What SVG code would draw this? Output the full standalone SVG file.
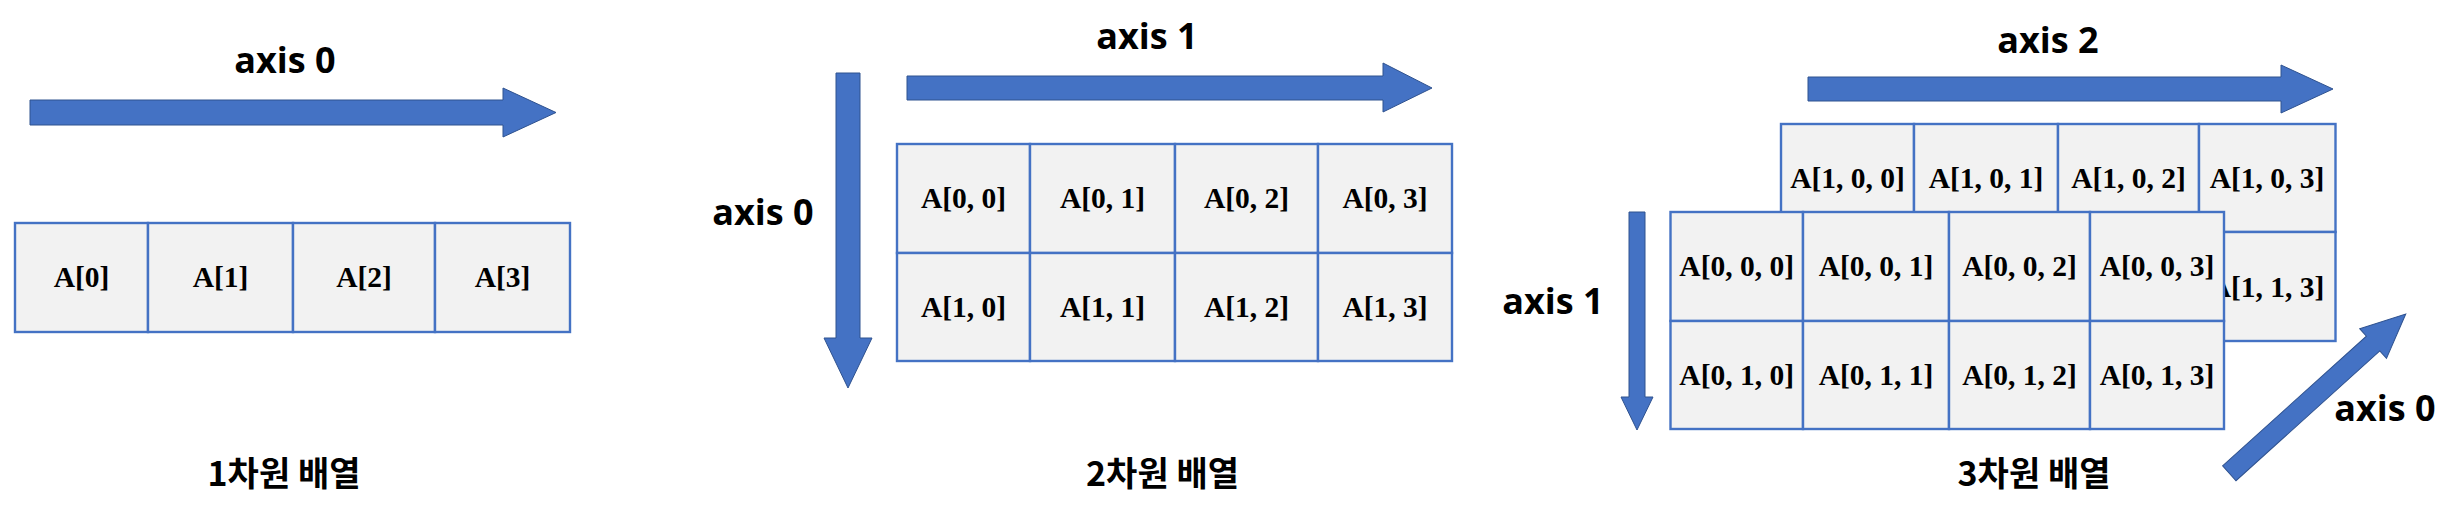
<svg xmlns="http://www.w3.org/2000/svg" width="2459" height="517" viewBox="0 0 2459 517">
<style>
.cell{fill:#F2F2F2;stroke:#4472C4;stroke-width:2.4}
.ct{font-family:"Liberation Serif","DejaVu Serif",serif;font-weight:bold;font-size:29.5px;fill:#000;text-anchor:middle}
.ax{font-family:"Open Sans","Liberation Sans",sans-serif;font-weight:bold;font-size:36px;fill:#000;text-anchor:middle}
.ttl{font-family:"Noto Sans CJK KR","Noto Sans",sans-serif;font-weight:bold;font-size:34px;fill:#000;text-anchor:middle}
.arr{fill:#4472C4;stroke:#2F528F;stroke-width:1}
</style>
<rect width="2459" height="517" fill="#FFFFFF"/>

<!-- 1D -->
<g id="d1-labels">
<text class="ax" x="285" y="73">axis 0</text>
<text class="ttl" x="284" y="486">1차원 배열</text>
</g>
<g id="d1-cell0"><rect class="cell" x="15" y="223" width="133" height="109"/><text class="ct" x="81.5" y="287">A[0]</text></g>
<g id="d1-cell1"><rect class="cell" x="148" y="223" width="145" height="109"/><text class="ct" x="220.5" y="287">A[1]</text></g>
<g id="d1-cell2"><rect class="cell" x="293" y="223" width="142" height="109"/><text class="ct" x="364" y="287">A[2]</text></g>
<g id="d1-cell3"><rect class="cell" x="435" y="223" width="135" height="109"/><text class="ct" x="502.5" y="287">A[3]</text></g>

<!-- 2D -->
<g id="d2-labels">
<text class="ax" x="1147" y="49">axis 1</text>
<text class="ax" x="763" y="225">axis 0</text>
<text class="ttl" x="1162.5" y="486">2차원 배열</text>
</g>
<g id="d2-c00"><rect class="cell" x="897" y="144" width="133" height="109"/><text class="ct" x="963.5" y="208">A[0, 0]</text></g>
<g id="d2-c01"><rect class="cell" x="1030" y="144" width="145" height="109"/><text class="ct" x="1102.5" y="208">A[0, 1]</text></g>
<g id="d2-c02"><rect class="cell" x="1175" y="144" width="143" height="109"/><text class="ct" x="1246.5" y="208">A[0, 2]</text></g>
<g id="d2-c03"><rect class="cell" x="1318" y="144" width="134" height="109"/><text class="ct" x="1385" y="208">A[0, 3]</text></g>
<g id="d2-c10"><rect class="cell" x="897" y="253" width="133" height="108"/><text class="ct" x="963.5" y="317">A[1, 0]</text></g>
<g id="d2-c11"><rect class="cell" x="1030" y="253" width="145" height="108"/><text class="ct" x="1102.5" y="317">A[1, 1]</text></g>
<g id="d2-c12"><rect class="cell" x="1175" y="253" width="143" height="108"/><text class="ct" x="1246.5" y="317">A[1, 2]</text></g>
<g id="d2-c13"><rect class="cell" x="1318" y="253" width="134" height="108"/><text class="ct" x="1385" y="317">A[1, 3]</text></g>

<!-- 3D back layer -->
<g id="d3-labels">
<text class="ax" x="2048" y="53">axis 2</text>
<text class="ax" x="1553" y="314">axis 1</text>
<text class="ax" x="2385" y="421">axis 0</text>
<text class="ttl" x="2034" y="486">3차원 배열</text>
</g>
<g id="d3-c100"><rect class="cell" x="1781" y="124" width="133" height="108"/><text class="ct" x="1847.5" y="188">A[1, 0, 0]</text></g>
<g id="d3-c101"><rect class="cell" x="1914" y="124" width="144" height="108"/><text class="ct" x="1986" y="188">A[1, 0, 1]</text></g>
<g id="d3-c102"><rect class="cell" x="2058" y="124" width="141" height="108"/><text class="ct" x="2128.5" y="188">A[1, 0, 2]</text></g>
<g id="d3-c103"><rect class="cell" x="2199" y="124" width="136.5" height="108"/><text class="ct" x="2267" y="188">A[1, 0, 3]</text></g>
<g id="d3-c110"><rect class="cell" x="1781" y="232" width="133" height="109"/></g>
<g id="d3-c111"><rect class="cell" x="1914" y="232" width="144" height="109"/></g>
<g id="d3-c112"><rect class="cell" x="2058" y="232" width="141" height="109"/></g>
<g id="d3-c113"><rect class="cell" x="2199" y="232" width="136.5" height="109"/><text class="ct" x="2267" y="297">A[1, 1, 3]</text></g>

<!-- 3D front layer -->
<g id="d3-c000"><rect class="cell" x="1670.5" y="212" width="132.5" height="109"/><text class="ct" x="1736.7" y="276">A[0, 0, 0]</text></g>
<g id="d3-c001"><rect class="cell" x="1803" y="212" width="146" height="109"/><text class="ct" x="1876" y="276">A[0, 0, 1]</text></g>
<g id="d3-c002"><rect class="cell" x="1949" y="212" width="141" height="109"/><text class="ct" x="2019.5" y="276">A[0, 0, 2]</text></g>
<g id="d3-c003"><rect class="cell" x="2090" y="212" width="134" height="109"/><text class="ct" x="2157" y="276">A[0, 0, 3]</text></g>
<g id="d3-c010"><rect class="cell" x="1670.5" y="321" width="132.5" height="108"/><text class="ct" x="1736.7" y="385">A[0, 1, 0]</text></g>
<g id="d3-c011"><rect class="cell" x="1803" y="321" width="146" height="108"/><text class="ct" x="1876" y="385">A[0, 1, 1]</text></g>
<g id="d3-c012"><rect class="cell" x="1949" y="321" width="141" height="108"/><text class="ct" x="2019.5" y="385">A[0, 1, 2]</text></g>
<g id="d3-c013"><rect class="cell" x="2090" y="321" width="134" height="108"/><text class="ct" x="2157" y="385">A[0, 1, 3]</text></g>

<!-- axis arrows -->
<g id="connectors">
<path class="arr" d="M30,100 H503 V88 L556,112.5 L503,137 V125 H30 Z"/>
<path class="arr" d="M907,76 H1383 V63 L1432,88 L1383,112 V100 H907 Z"/>
<path class="arr" d="M836,73 H860 V338 H872 L848,388 L824,338 H836 Z"/>
<path class="arr" d="M1808,77 H2281 V65 L2333,89 L2281,113 V101 H1808 Z"/>
<path class="arr" d="M1629,212 H1645 V397 H1653 L1637,430 L1621,397 H1629 Z"/>
<path class="arr" transform="translate(2229.3,473.3) rotate(-42.07)" d="M0,-10 H193.7 V-20 L237.7,0 L193.7,20 V10 H0 Z"/>
</g>
</svg>
